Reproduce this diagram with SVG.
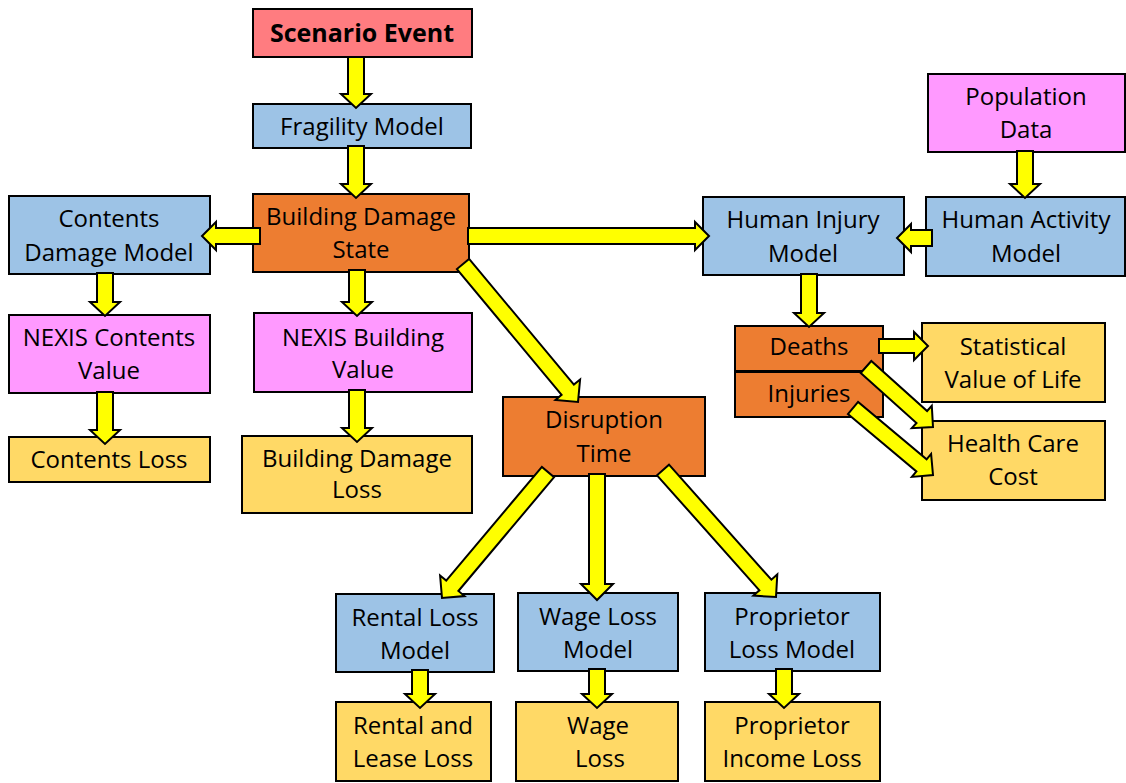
<svg xmlns="http://www.w3.org/2000/svg" width="1126" height="783" viewBox="0 0 1126 783">
  <style>
    .box { stroke: #000; stroke-width: 2; }
    .blue { fill: #9DC3E6; }
    .orange { fill: #ED7D31; }
    .pink { fill: #FF99FF; }
    .gold { fill: #FFD966; }
    .red { fill: #FF7C80; }
    text { font-family: "Open Sans", "Noto Sans", "DejaVu Sans", sans-serif; font-size: 24px; fill: #000; text-anchor: middle; }
    .bold { font-weight: bold; font-size: 25px; }
    .arrow { fill: #FFFF00; stroke: #000; stroke-width: 2; stroke-linejoin: miter; }
  </style>
  <rect width="1126" height="783" fill="#fff"/>

  <!-- nodes -->
  <g id="scenario-event">
    <rect class="box red" x="253" y="9" width="219" height="48"/>
    <text class="bold" x="362" y="42">Scenario Event</text>
  </g>
  <g id="fragility-model">
    <rect class="box blue" x="253" y="104" width="218" height="44"/>
    <text x="362" y="135">Fragility Model</text>
  </g>
  <g id="building-damage-state">
    <rect class="box orange" x="253" y="194" width="216" height="78"/>
    <text x="361" y="225">Building Damage</text>
    <text x="361" y="258">State</text>
  </g>
  <g id="contents-damage-model">
    <rect class="box blue" x="9" y="196" width="201" height="78"/>
    <text x="109" y="227">Contents</text>
    <text x="109" y="261">Damage Model</text>
  </g>
  <g id="nexis-contents-value">
    <rect class="box pink" x="9" y="315" width="201" height="78"/>
    <text x="109" y="346">NEXIS Contents</text>
    <text x="109" y="379">Value</text>
  </g>
  <g id="contents-loss">
    <rect class="box gold" x="9" y="437" width="201" height="45"/>
    <text x="109" y="468">Contents Loss</text>
  </g>
  <g id="nexis-building-value">
    <rect class="box pink" x="254" y="313" width="218" height="79"/>
    <text x="363" y="346">NEXIS Building</text>
    <text x="363" y="378">Value</text>
  </g>
  <g id="building-damage-loss">
    <rect class="box gold" x="242" y="436" width="230" height="77"/>
    <text x="357" y="467">Building Damage</text>
    <text x="357" y="498">Loss</text>
  </g>
  <g id="disruption-time">
    <rect class="box orange" x="503" y="397" width="202" height="79"/>
    <text x="604" y="428">Disruption</text>
    <text x="604" y="462">Time</text>
  </g>
  <g id="population-data">
    <rect class="box pink" x="928" y="74" width="197" height="78"/>
    <text x="1026" y="105">Population</text>
    <text x="1026" y="138">Data</text>
  </g>
  <g id="human-activity-model">
    <rect class="box blue" x="926" y="197" width="199" height="79"/>
    <text x="1026" y="228">Human Activity</text>
    <text x="1026" y="262">Model</text>
  </g>
  <g id="human-injury-model">
    <rect class="box blue" x="703" y="197" width="201" height="78"/>
    <text x="803" y="228">Human Injury</text>
    <text x="803" y="262">Model</text>
  </g>
  <g id="deaths">
    <rect class="box orange" x="735" y="326" width="148" height="45"/>
    <text x="809" y="355">Deaths</text>
  </g>
  <g id="injuries">
    <rect class="box orange" x="735" y="372" width="148" height="45"/>
    <text x="809" y="402">Injuries</text>
  </g>
  <g id="statistical-value-of-life">
    <rect class="box gold" x="922" y="323" width="183" height="79"/>
    <text x="1013" y="355">Statistical</text>
    <text x="1013" y="388">Value of Life</text>
  </g>
  <g id="health-care-cost">
    <rect class="box gold" x="922" y="421" width="183" height="79"/>
    <text x="1013" y="452">Health Care</text>
    <text x="1013" y="485">Cost</text>
  </g>
  <g id="rental-loss-model">
    <rect class="box blue" x="336" y="594" width="158" height="78"/>
    <text x="415" y="626">Rental Loss</text>
    <text x="415" y="659">Model</text>
  </g>
  <g id="wage-loss-model">
    <rect class="box blue" x="518" y="593" width="160" height="78"/>
    <text x="598" y="625">Wage Loss</text>
    <text x="598" y="658">Model</text>
  </g>
  <g id="proprietor-loss-model">
    <rect class="box blue" x="705" y="593" width="175" height="78"/>
    <text x="792" y="625">Proprietor</text>
    <text x="792" y="658">Loss Model</text>
  </g>
  <g id="rental-and-lease-loss">
    <rect class="box gold" x="336" y="702" width="155" height="79"/>
    <text x="413" y="734">Rental and</text>
    <text x="413" y="767">Lease Loss</text>
  </g>
  <g id="wage-loss">
    <rect class="box gold" x="516" y="702" width="162" height="79"/>
    <text x="598" y="734">Wage</text>
    <text x="600" y="767">Loss</text>
  </g>
  <g id="proprietor-income-loss">
    <rect class="box gold" x="705" y="702" width="175" height="79"/>
    <text x="792" y="734">Proprietor</text>
    <text x="792" y="767">Income Loss</text>
  </g>

  <!-- block arrows -->
  <g id="connectors">
    <!-- vertical, downward -->
    <polygon class="arrow" points="348,57 348,94 341,94 356,108 371,94 364,94 364,57"/>
    <polygon class="arrow" points="348,146 348,184 341,184 356,198 371,184 364,184 364,146"/>
    <polygon class="arrow" points="349,270 349,302 342,302 357,316 372,302 365,302 365,270"/>
    <polygon class="arrow" points="349,390 349,428 342,428 357,442 372,428 365,428 365,390"/>
    <polygon class="arrow" points="97,273 97,302 90,302 105,316 120,302 113,302 113,273"/>
    <polygon class="arrow" points="97,392 97,430 90,430 105,444 120,430 113,430 113,392"/>
    <polygon class="arrow" points="1017,151 1017,184 1010,184 1025,198 1040,184 1033,184 1033,151"/>
    <polygon class="arrow" points="801,274 801,313 794,313 809,327 824,313 817,313 817,274"/>
    <polygon class="arrow" points="589,474 589,584 581,584 597,600 613,584 605,584 605,474"/>
    <polygon class="arrow" points="412,670 412,694 405,694 420,708 435,694 428,694 428,670"/>
    <polygon class="arrow" points="589,669 589,694 582,694 597,708 612,694 605,694 605,669"/>
    <polygon class="arrow" points="776,669 776,694 769,694 784,708 799,694 792,694 792,669"/>
    <!-- horizontal -->
    <polygon class="arrow" points="260,228 216,228 216,222 202,236 216,250 216,244 260,244"/>
    <polygon class="arrow" points="468,228 695,228 695,222 709,236 695,250 695,244 468,244"/>
    <polygon class="arrow" points="932,230 911,230 911,224 897,238 911,252 911,246 932,246"/>
    <polygon class="arrow" points="879,339 914,339 914,332 928,346 914,360 914,353 879,353"/>
    <!-- diagonal -->
    <polygon class="arrow" points="456.9,269.1 561.6,394.8 555.5,399.9 578,402 580.1,379.5 573.9,384.6 469.1,258.9"/>
    <polygon class="arrow" points="860.7,373 916.5,423 911.8,428.2 933,427 931.8,405.8 927.1,411 871.3,361"/>
    <polygon class="arrow" points="847.9,414.1 916.4,471.5 911.9,476.9 933,475 931.1,453.9 926.6,459.3 858.1,401.9"/>
    <polygon class="arrow" points="541.9,466.9 446.2,580.6 440.1,575.5 442,598 464.5,596.1 458.4,591 554.1,477.2"/>
    <polygon class="arrow" points="657,475.3 759.4,590.3 753.4,595.6 776,597 777.3,574.4 771.4,579.7 669,464.7"/>
  </g>
</svg>
